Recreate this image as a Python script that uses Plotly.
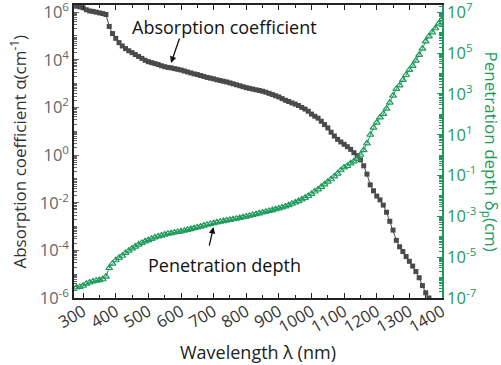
import plotly.graph_objects as go

# Wavelength grids (nm)
wl_abs = list(range(280, 1370, 10))  # 280..1360
wl_pen = list(range(280, 1410, 10))  # 280..1400

# log10 of absorption coefficient (cm^-1)
log_alpha = [
    6.25, 6.22, 6.18, 6.10, 6.05, 6.03, 6.00, 5.97, 5.94, 5.90,
    5.40, 5.10, 4.90, 4.72, 4.58, 4.47, 4.38, 4.30, 4.22, 4.14,
    4.06, 3.98, 3.92, 3.88, 3.84, 3.80, 3.75, 3.71, 3.68, 3.66,
    3.63, 3.60, 3.57, 3.53, 3.49, 3.45, 3.41, 3.38, 3.34, 3.30,
    3.26, 3.23, 3.20, 3.16, 3.13, 3.10, 3.07, 3.03, 2.99, 2.95,
    2.91, 2.87, 2.83, 2.80, 2.77, 2.74, 2.71, 2.68, 2.64, 2.59,
    2.54, 2.49, 2.44, 2.37, 2.30, 2.25, 2.19, 2.14, 2.08, 2.00,
    1.93, 1.84, 1.72, 1.63, 1.55, 1.42, 1.28, 1.14, 0.96, 0.80,
    0.66, 0.55, 0.45, 0.35, 0.24, 0.10, -0.02, -0.20, -0.45, -0.80,
    -1.25, -1.50, -1.72, -1.88, -2.10, -2.40, -2.78, -3.15, -3.58, -3.85,
    -4.05, -4.26, -4.46, -4.66, -4.89, -5.15, -5.48, -5.78, -6.00,
]

# log10 of penetration depth (cm)
log_delta = [
    -6.48, -6.46, -6.40, -6.30, -6.24, -6.19, -6.15, -6.12, -6.08, -5.95,
    -5.53, -5.32, -5.15, -5.03, -4.93, -4.79, -4.68, -4.57, -4.48, -4.38,
    -4.30, -4.22, -4.16, -4.10, -4.03, -3.98, -3.94, -3.89, -3.85, -3.82,
    -3.79, -3.76, -3.73, -3.70, -3.66, -3.62, -3.58, -3.54, -3.50, -3.45,
    -3.41, -3.37, -3.33, -3.29, -3.26, -3.23, -3.20, -3.17, -3.14, -3.11,
    -3.08, -3.04, -3.01, -2.97, -2.93, -2.89, -2.85, -2.81, -2.77, -2.73,
    -2.69, -2.65, -2.61, -2.56, -2.51, -2.45, -2.38, -2.32, -2.25, -2.17,
    -2.09, -2.00, -1.90, -1.78, -1.68, -1.55, -1.43, -1.30, -1.18, -1.04,
    -0.90, -0.74, -0.60, -0.53, -0.40, -0.30, -0.18, 0.02, 0.25, 0.58,
    1.00, 1.35, 1.60, 1.85, 2.02, 2.28, 2.58, 2.92, 3.25, 3.42,
    3.69, 3.93, 4.18, 4.38, 4.63, 4.92, 5.22, 5.58, 5.82, 6.02,
    6.22, 6.45, 6.65,
]

alpha = [10 ** v for v in log_alpha]
delta = [10 ** v for v in log_delta]

x_ticks = list(range(300, 1500, 100))
left_exp = [-6, -4, -2, 0, 2, 4, 6]
right_exp = [-7, -5, -3, -1, 1, 3, 5, 7]

GREEN = "#1e9a5c"
GREY = "#4a4a4a"
TICKGREY = "#666666"
FONT = "Open Sans"

fig = go.Figure()
fig.add_trace(go.Scatter(
    x=wl_abs, y=alpha, mode="lines+markers",
    line=dict(color=GREY, width=1),
    marker=dict(symbol="square", size=5, color=GREY),
    yaxis="y", showlegend=False,
))
fig.add_trace(go.Scatter(
    x=wl_pen, y=delta, mode="lines+markers",
    line=dict(color=GREEN, width=1),
    marker=dict(symbol="triangle-up-open", size=6, color=GREEN, line=dict(width=1.2)),
    yaxis="y2", showlegend=False,
))

fig.update_layout(
    template="none",
    width=501, height=365,
    margin=dict(l=74, r=59, t=5, b=67, autoexpand=False),
    paper_bgcolor="white", plot_bgcolor="white",
    font=dict(family=FONT, size=16, color="#333333"),
    xaxis=dict(
        range=[272, 1400], tickvals=x_ticks, ticktext=[str(v) for v in x_ticks],
        tickangle=-30, ticks="inside", ticklen=5, tickcolor="#222222",
        showline=True, linecolor="#222222", linewidth=1.5, mirror="ticks",
        showgrid=False, zeroline=False, automargin=False,
        ticklabelstandoff=-4, ticklabeloverflow="allow",
        tickfont=dict(family=FONT, size=16.5, color="#333333"),
        minor=dict(ticks="inside", ticklen=3, dtick=50, tick0=250, tickcolor="#222222"),
    ),
    yaxis=dict(
        type="log", range=[-6, 6.3],
        tickvals=[10 ** e for e in left_exp],
        ticktext=["10<sup>%d</sup>" % e for e in left_exp],
        ticks="inside", ticklen=5, tickcolor=TICKGREY,
        showline=True, linecolor="#222222", linewidth=1.5,
        showgrid=False, zeroline=False, automargin=False,
        ticklabeloverflow="allow",
        tickfont=dict(family=FONT, size=16.5, color=TICKGREY),
        minor=dict(ticks="inside", ticklen=3, dtick="D1", tickcolor=TICKGREY),
    ),
    yaxis2=dict(
        type="log", range=[-7, 7.36], overlaying="y", side="right",
        tickvals=[10 ** e for e in right_exp],
        ticktext=["10<sup>%d</sup>" % e for e in right_exp],
        ticks="inside", ticklen=5, tickcolor=GREEN,
        showline=True, linecolor=GREEN, linewidth=1.5,
        showgrid=False, zeroline=False, automargin=False,
        ticklabeloverflow="allow",
        tickfont=dict(family=FONT, size=16.5, color=GREEN),
        minor=dict(ticks="inside", ticklen=3, dtick="D1", tickcolor=GREEN),
    ),
    annotations=[
        dict(text="Absorption coefficient", xref="paper", yref="paper",
             x=0.409, y=0.925, xanchor="center", yanchor="middle",
             showarrow=False, font=dict(size=18, color="#111111")),
        dict(text="", xref="paper", yref="paper", x=0.2636, y=0.802,
             showarrow=True, ax=9, ay=-26, arrowhead=2, arrowsize=1,
             arrowwidth=1.3, arrowcolor="#111111"),
        dict(text="Penetration depth", xref="paper", yref="paper",
             x=0.410, y=0.1126, xanchor="center", yanchor="middle",
             showarrow=False, font=dict(size=18, color="#111111")),
        dict(text="", xref="paper", yref="paper", x=0.379, y=0.2423,
             showarrow=True, ax=-4.5, ay=20, arrowhead=2, arrowsize=1,
             arrowwidth=1.3, arrowcolor="#111111"),
        dict(text="Absorption coefficient α(cm<sup>-1</sup>)", xref="paper", yref="paper",
             x=-0.152, y=0.5, xanchor="center", yanchor="middle",
             textangle=-90, showarrow=False,
             font=dict(size=17, color="#333333")),
        dict(text="Penetration depth δ<sub>p</sub>(cm)", xref="paper", yref="paper",
             x=1.133, y=0.5, xanchor="center", yanchor="middle",
             textangle=90, showarrow=False,
             font=dict(size=17, color=GREEN)),
        dict(text="Wavelength λ (nm)", xref="paper", yref="paper",
             x=0.5, y=-0.184, xanchor="center", yanchor="middle",
             showarrow=False, font=dict(size=18, color="#222222")),
    ],
)

fig.write_html("out.html", config={"displayModeBar": False},
               post_script="document.body.style.margin='0px';")
